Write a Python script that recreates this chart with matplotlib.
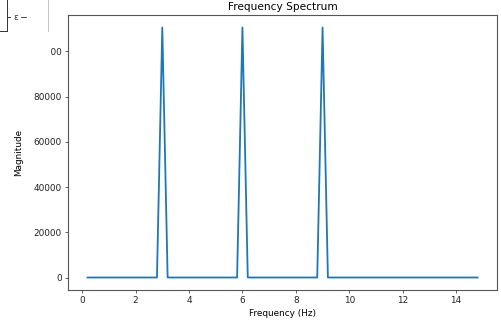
import matplotlib
matplotlib.use("Agg")
import matplotlib.pyplot as plt
from matplotlib.patches import Rectangle
from matplotlib.lines import Line2D

# Frequency bins (Hz) and magnitudes
freqs = [round(0.2 * k, 1) for k in range(1, 75)]
peak_freqs = [3.0, 6.0, 9.0]
peak_mags = [110500, 110500, 110500]
mags = [0.0] * len(freqs)
for pf, pm in zip(peak_freqs, peak_mags):
    mags[freqs.index(pf)] = pm

W, H = 501, 325
fig = plt.figure(figsize=(W / 100, H / 100), dpi=100)
L, R, T, B = 68, 497, 15, 290
ax = fig.add_axes([L / W, 1 - B / H, (R - L) / W, (B - T) / H])
fs = 6.4
ax.plot(freqs, mags, color="#1f77b4", linewidth=1.3)
ax.set_title("Frequency Spectrum", fontsize=7.6, pad=3.6)
ax.set_xlabel("Frequency (Hz)", fontsize=fs)
ax.set_ylabel("Magnitude", fontsize=fs)
ax.xaxis.set_label_coords(0.5, -(313 - B) / (B - T))
ax.xaxis.label.set_va("center")
ax.yaxis.set_label_coords(-(L - 19) / (R - L), 0.5)
ax.yaxis.label.set_va("center")
ax.set_xticks([0, 2, 4, 6, 8, 10, 12, 14])
ax.set_yticks([0, 20000, 40000, 60000, 80000, 100000])
ax.tick_params(labelsize=fs, width=0.6, length=2.3, pad=2.2, color="#444444",
               labelcolor="#222222")
for s in ax.spines.values():
    s.set_linewidth(0.8)
    s.set_color("#555555")


def p(x, y):
    return (x / W, 1 - y / H)


# overlapping fragment at top-left (part of another panel)
fig.add_artist(Rectangle(p(0, 62), 49.5 / W, 62 / H, transform=fig.transFigure,
                         facecolor="white", edgecolor="none", zorder=10))


def line(x0, y0, x1, y1, color="#333333", lw=0.7):
    a, b = p(x0, y0)
    c, d = p(x1, y1)
    fig.add_artist(Line2D([a, c], [b, d], transform=fig.transFigure,
                          color=color, linewidth=lw, zorder=11))


line(7, 0, 7, 31)
line(0, 31, 7, 31)
line(7, 17, 10, 17)
line(21, 17, 26, 17, lw=0.6)
line(48, 0, 48, 31, color="#bbbbbb", lw=0.6)
fig.text(*p(13.5, 17), "ε", fontsize=fs, va="center", ha="left", zorder=12,
         color="#333333")

fig.savefig("out.png", dpi=100)
